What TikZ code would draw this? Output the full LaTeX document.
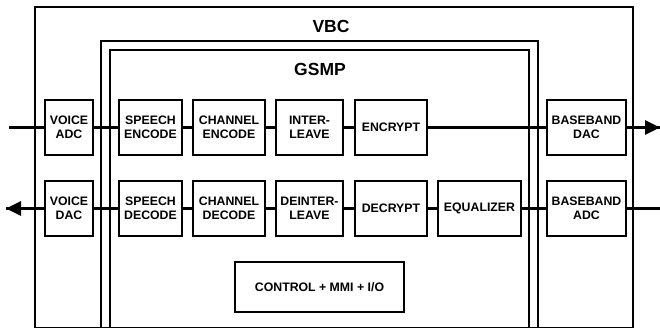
\documentclass[tikz,border=0pt]{standalone}
\usepackage{fontspec}
\setmainfont{Liberation Sans}
\usetikzlibrary{positioning,calc,arrows.meta}

\tikzset{
    blk/.style={draw, line width=1.5pt, fill=white, minimum height=55pt, inner sep=0pt,
        align=center, font=\bfseries\fontsize{12.3}{14}\selectfont},
    frame/.style={draw, line width=1.5pt},
    sig/.style={line width=3.2pt},
    title/.style={font=\bfseries\fontsize{17.5}{20}\selectfont}
}

\begin{document}
\begin{tikzpicture}[x=1pt,y=-1pt]
    \useasboundingbox (0,0) rectangle (660,327);
    \clip (0,0) rectangle (660,327);

    % nested chips
    \draw[frame] (35,327.5) -- (35,7) -- (633,7) -- (633,327.5) -- cycle;
    \draw[frame] (101,327.5) -- (101,41) -- (538,41) -- (538,327.5) -- cycle;
    \draw[frame] (110,327.5) -- (110,50) -- (529,50) -- (529,327.5) -- cycle;
    \node[title] (vbc) at (331,26) {VBC};
    \node[title] (gsmp) at (320,69) {GSMP};

    % transmit path
    \coordinate (txin) at (9,127.5);
    \coordinate (txout) at (660,127.5);
    \draw[sig] (txin) -- (txout);
    \node[blk, minimum width=48pt] (vadc) at (69,127.5) {VOICE\\ADC};
    \node[blk, minimum width=63pt] (senc) at (150.5,127.5) {SPEECH\\ENCODE};
    \node[blk, minimum width=72pt] (cenc) at (229,127.5) {CHANNEL\\ENCODE};
    \node[blk, minimum width=67pt] (ilv) at (309.5,127.5) {INTER-\\LEAVE};
    \node[blk, minimum width=72pt] (enc) at (391,127.5) {ENCRYPT};
    \node[blk, minimum width=79pt] (bdac) at (586.5,127.5) {BASEBAND\\DAC};
    \draw[sig, -{Triangle[length=15pt,width=14pt]}] (bdac.east) -- (txout);

    % receive path
    \coordinate (rxin) at (660,208.5);
    \coordinate (rxout) at (6,208.5);
    \draw[sig] (rxin) -- (rxout);
    \node[blk, minimum width=48pt] (vdac) at (69,208.5) {VOICE\\DAC};
    \node[blk, minimum width=63pt] (sdec) at (150.5,208.5) {SPEECH\\DECODE};
    \node[blk, minimum width=72pt] (cdec) at (229,208.5) {CHANNEL\\DECODE};
    \node[blk, minimum width=67pt] (dilv) at (309.5,208.5) {DEINTER-\\LEAVE};
    \node[blk, minimum width=72pt] (dec) at (391,208.5) {DECRYPT};
    \node[blk, minimum width=83pt] (equ) at (479.5,208.5) {EQUALIZER};
    \node[blk, minimum width=79pt] (badc) at (586.5,208.5) {BASEBAND\\ADC};
    \draw[sig, -{Triangle[length=15pt,width=14pt]}] (vdac.west) -- (rxout);

    \node[blk, minimum width=169pt, minimum height=50pt] (ctrl) at (319.5,287) {CONTROL + MMI + I/O};
\end{tikzpicture}
\end{document}
